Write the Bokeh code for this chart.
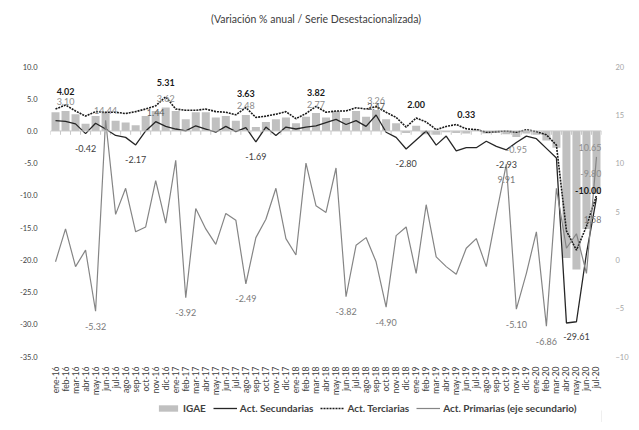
import math
from bokeh.plotting import figure
from bokeh.layouts import column
from bokeh.models import (Range1d, LinearAxis, FixedTicker, Span, Legend, LegendItem,
                          NumeralTickFormatter)
from bokeh.core.properties import value
from bokeh.embed import file_html
from bokeh.resources import INLINE

# ---------------- data ----------------
months = ["ene-16", "feb-16", "mar-16", "abr-16", "may-16", "jun-16", "jul-16", "ago-16", "sep-16", "oct-16", "nov-16", "dic-16",
          "ene-17", "feb-17", "mar-17", "abr-17", "may-17", "jun-17", "jul-17", "ago-17", "sep-17", "oct-17", "nov-17", "dic-17",
          "ene-18", "feb-18", "mar-18", "abr-18", "may-18", "jun-18", "jul-18", "ago-18", "sep-18", "oct-18", "nov-18", "dic-18",
          "ene-19", "feb-19", "mar-19", "abr-19", "may-19", "jun-19", "jul-19", "ago-19", "sep-19", "oct-19", "nov-19", "dic-19",
          "ene-20", "feb-20", "mar-20", "abr-20", "may-20", "jun-20", "jul-20"]

igae = [2.9, 3.10, 2.6, 1.1, 2.3, 2.9, 1.6, 1.3, 0.9, 2.3,
        3.1, 3.62, 3.1, 1.8, 2.9, 2.9, 2.1, 2.3, 1.6, 2.48,
        0.6, 1.4, 1.8, 2.1, 1.2, 2.2, 2.77, 2.1, 3.1, 2.0,
        3.1, 2.2, 3.26, 1.8, 1.2, -0.3, 0.8, -0.5, -0.6, -0.2,
        -0.3, -0.4, 0.3, -0.4, -0.3, -0.5, -0.95, -0.4, -0.6, -1.5,
        -2.6, -19.7, -21.5, -15.2, -9.80]

secundarias = [1.6, 1.5, 1.1, -0.42, 1.2, 0.3, -0.7, -1.0, -2.17, 0.0,
               1.44, 0.7, 0.3, 0.0, 0.8, 0.3, -0.2, 0.7, -0.1, 0.5,
               -1.69, 0.6, -0.7, 0.6, 0.3, 0.6, 0.8, 1.3, 1.8, 1.0,
               1.6, 0.7, 2.47, -0.2, -1.0, -2.80, -1.4, 0.0, -2.2, -0.8,
               -3.1, -2.6, -2.6, -1.6, -2.4, -2.93, -1.8, -0.8, -1.2, -2.7,
               -4.2, -29.8, -29.61, -19.0, -10.4]

terciarias = [3.4, 4.02, 3.1, 2.3, 3.0, 2.9, 2.9, 2.7, 3.0, 3.4,
              3.9, 5.31, 3.4, 3.2, 3.2, 3.4, 3.0, 2.9, 2.5, 3.63,
              2.1, 2.3, 2.6, 3.0, 1.9, 2.7, 3.82, 2.9, 3.1, 3.1,
              3.6, 3.4, 3.8, 2.9, 2.1, 0.6, 2.00, 1.4, 0.2, 0.7,
              1.0, 0.33, 0.2, -0.2, -0.1, 0.0, -0.2, 0.2, -0.1, -0.6,
              -2.2, -15.5, -18.5, -14.8, -10.00]

primarias = [-0.2, 3.2, -0.7, 1.0, -5.32, 14.44, 4.7, 7.4, 2.9, 3.4,
             8.2, 3.8, 10.3, -3.92, 5.3, 3.2, 1.6, 4.8, 4.1, -2.49,
             2.3, 4.2, 7.4, 2.2, 0.5, 10.0, 5.6, 4.9, 9.5, -3.82,
             1.5, 2.3, -0.2, -4.90, 2.5, 3.4, -1.4, 5.7, 0.3, -0.7,
             -1.5, 1.2, 2.2, -0.7, 4.7, 9.91, -5.10, -1.4, 2.9, -6.86,
             7.4, 1.2, 2.7, -1.4, 10.65]

left_ticks = [-35, -30, -25, -20, -15, -10, -5, 0, 5, 10]
right_ticks = [-10, -5, 0, 5, 10, 15, 20]

# data-label indices (labels show the series value at that month)
igae_lab_above = [1, 11, 19, 26, 32]
igae_lab_below = [46]
secu_lab_below = [3, 8, 20, 35, 45, 52]
secu_lab_above = [10, 32]
terc_lab_above = [1, 11, 19, 26, 36, 41]
prim_lab_below = [4, 13, 19, 29, 33, 45, 46, 49]
prim_lab_above = [5]
# labels of the last month (jul-20)
end_lab_text = ["10.65", "-9.80", "-10.00", "1.58"]

title_text = "(Variación % anual / Serie Desestacionalizada)"
legend_labels = ["IGAE", "Act. Secundarias", "Act. Terciarias", "Act. Primarias (eje secundario)"]

# ---------------- styles ----------------
FONT = "Lato"
C_BAR = "#c0c0c0"
C_SEC = "#262626"
C_TER = "#1a1a1a"
C_PRI = "#858585"
W = 631

n = len(months)
x = list(range(n))

# ---------------- title strip ----------------
tf = figure(width=W, height=36, output_backend="svg", toolbar_location=None,
            x_axis_type=None, y_axis_type=None, min_border=0,
            x_range=Range1d(0, 1), y_range=Range1d(0, 1))
tf.outline_line_color = None
tf.grid.visible = False
tf.text(x=[0.482], y=[0.5], text=[title_text], text_font=value(FONT),
        text_font_size="10.5px", text_color="#404040",
        text_align="center", text_baseline="middle")

# ---------------- main chart ----------------
p = figure(width=W, height=362, output_backend="svg", toolbar_location=None,
           x_range=Range1d(-0.5, n - 0.5), y_range=Range1d(left_ticks[0], left_ticks[-1]),
           min_border_left=50, min_border_right=19, min_border_top=30, min_border_bottom=37)
p.extra_y_ranges = {"sec": Range1d(right_ticks[0], right_ticks[-1])}
p.xgrid.visible = False
p.ygrid.visible = False
p.outline_line_color = None
p.background_fill_color = "white"
p.border_fill_color = "white"

# left axis
p.yaxis.ticker = FixedTicker(ticks=left_ticks)
p.yaxis.formatter = NumeralTickFormatter(format="0.0")
p.yaxis.axis_line_color = None
p.yaxis.major_tick_line_color = None
p.yaxis.minor_tick_line_color = None
p.yaxis.major_label_text_font = FONT
p.yaxis.major_label_text_font_size = "7.5px"
p.yaxis.major_label_text_color = "#404040"
p.yaxis.major_label_standoff = 7

# right axis
ax2 = LinearAxis(y_range_name="sec", ticker=FixedTicker(ticks=right_ticks))
ax2.axis_line_color = None
ax2.major_tick_line_color = None
ax2.minor_tick_line_color = None
ax2.major_label_text_font = FONT
ax2.major_label_text_font_size = "7.5px"
ax2.major_label_text_color = "#a6a6a6"
ax2.major_label_standoff = 8
p.add_layout(ax2, "right")

# x axis
p.xaxis.ticker = FixedTicker(ticks=x)
p.xaxis.major_label_overrides = {i: m for i, m in enumerate(months)}
p.xaxis.major_label_orientation = math.pi / 2
p.xaxis.axis_line_color = None
p.xaxis.major_tick_line_color = None
p.xaxis.minor_tick_line_color = None
p.xaxis.major_label_text_font = FONT
p.xaxis.major_label_text_font_size = "8.5px"
p.xaxis.major_label_text_color = "#404040"
p.xaxis.major_label_standoff = 4

# bars
p.vbar(x=x, top=igae, bottom=0, width=0.8, fill_color=C_BAR, line_color=None)

# category axis line at zero with tick marks
p.add_layout(Span(location=0, dimension="width", line_color="#c8c8c8", line_width=1))
bounds = [i - 0.5 for i in range(n + 1)]
p.segment(x0=bounds, y0=[0] * len(bounds), x1=bounds, y1=[-0.6] * len(bounds),
          line_color="#c8c8c8", line_width=1)

# lines
p.line(x, secundarias, line_color=C_SEC, line_width=1.3)
p.line(x, terciarias, line_color=C_TER, line_width=1.6, line_dash="2 1")
p.line(x, primarias, y_range_name="sec", line_color=C_PRI, line_width=1.2)

# data labels
LAB_SIZE = "9px"
def add_labels(idx, series, dy, color, bold=False, yr=None):
    kw = {"y_range_name": yr} if yr else {}
    p.text(x=idx, y=[series[i] for i in idx], text=[f"{series[i]:.2f}" for i in idx],
           text_font=value(FONT), text_font_size=LAB_SIZE, text_color=color,
           text_font_style="bold" if bold else "normal",
           text_align="center", text_baseline="middle", y_offset=dy, **kw)

add_labels(igae_lab_above, igae, -9, "#8c8c8c")
add_labels(igae_lab_below, igae, 12, "#8c8c8c")
add_labels(secu_lab_below, secundarias, 15, "#404040")
add_labels(secu_lab_above, secundarias, -9, "#595959")
add_labels(terc_lab_above, terciarias, -14, "#1a1a1a", bold=True)
add_labels(prim_lab_below, primarias, 15, "#7a7a7a", yr="sec")
add_labels(prim_lab_above, primarias, -10, "#8c8c8c", yr="sec")

last = n - 1
def end_label(txt, yv, dy, color, bold=False, yr=None):
    kw = {"y_range_name": yr} if yr else {}
    p.text(x=[last], y=[yv], text=[txt], text_font=value(FONT),
           text_font_size=LAB_SIZE, text_color=color,
           text_font_style="bold" if bold else "normal",
           text_align="right", text_baseline="middle", x_offset=5, y_offset=dy, **kw)

end_label(end_lab_text[0], primarias[last], -9, "#8c8c8c", yr="sec")
end_label(end_lab_text[1], igae[last], -21, "#8c8c8c")
end_label(end_lab_text[2], terciarias[last], -5, "#1a1a1a", bold=True)
end_label(end_lab_text[3], terciarias[last], 24, "#7a7a7a")

# ---------------- legend strip ----------------
lf = figure(width=W, height=24, output_backend="svg", toolbar_location=None,
            x_axis_type=None, y_axis_type=None, min_border=0,
            x_range=Range1d(0, 1), y_range=Range1d(0, 1))
lf.outline_line_color = None
lf.grid.visible = False
# legend swatches (kept outside the strip's visible range)
g_bar = lf.vbar(x=[5], top=[0.5], width=0.8, fill_color=C_BAR, line_color=None)
g_sec = lf.line(x=[5, 6], y=[0.5, 0.5], line_color=C_SEC, line_width=1.3)
g_ter = lf.line(x=[5, 6], y=[0.5, 0.5], line_color=C_TER, line_width=1.6, line_dash="2 1")
g_pri = lf.line(x=[5, 6], y=[0.5, 0.5], line_color=C_PRI, line_width=1.2)
legend = Legend(items=[LegendItem(label=lab, renderers=[r]) for lab, r in
                       zip(legend_labels, [g_bar, g_sec, g_ter, g_pri])],
                orientation="horizontal", location=(106, 8))
legend.glyph_width = 24
legend.glyph_height = 8
legend.label_height = 10
legend.label_standoff = 3
legend.spacing = 7
legend.padding = 0
legend.margin = 0
legend.label_text_font = FONT
legend.label_text_font_size = "10px"
legend.label_text_font_style = "bold"
legend.label_text_color = "#404040"
legend.background_fill_alpha = 0
legend.border_line_color = None
lf.add_layout(legend)

open("out.html", "w").write(file_html(column(tf, p, lf), INLINE))
